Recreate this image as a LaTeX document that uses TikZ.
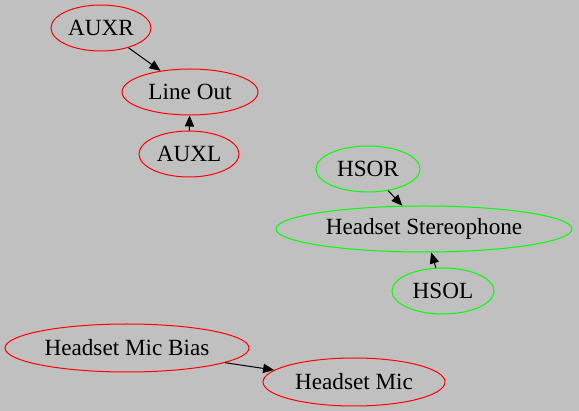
\documentclass[tikz,border=0pt]{standalone}
\usepackage{fontspec}
\setmainfont{Liberation Serif}
\usepackage{tikz}
\usetikzlibrary{shapes.geometric, arrows.meta}
\definecolor{bggray}{RGB}{192,192,192}
\definecolor{dapmred}{RGB}{255,0,0}
\definecolor{dapmgreen}{RGB}{0,255,0}

\begin{document}
\begin{tikzpicture}[
  x=0.5pt, y=-0.5pt,
  widget/.style={
    ellipse, draw, line width=0.5pt, inner sep=0pt,
    minimum height=23pt,
    font=\fontsize{11.6}{14}\selectfont
  },
  redw/.style={widget, draw=dapmred},
  greenw/.style={widget, draw=dapmgreen},
  route/.style={-{Triangle[length=5.5pt, width=4.6pt]}, line width=0.5pt, black},
]

% canvas
\fill[bggray] (0,0) rectangle (579,411);

% line out
\node[redw, minimum width=50pt]  (auxr)    at (101,28)  {AUXR};
\node[redw, minimum width=68pt]  (lineout) at (190,92)  {Line Out};
\node[redw, minimum width=50pt]  (auxl)    at (189,154) {AUXL};

% headset stereophone
\node[greenw, minimum width=52pt]  (hsor)   at (368,169) {HSOR};
\node[greenw, minimum width=148pt] (hsstereo) at (424,229) {Headset Stereophone};
\node[greenw, minimum width=51pt]  (hsol)   at (443,291) {HSOL};

% headset mic
\node[redw, minimum width=122pt, minimum height=24pt] (micbias) at (127,348) {Headset Mic Bias};
\node[redw, minimum width=91pt, minimum height=24pt]  (hsmic)   at (354,382) {Headset Mic};

\draw[route] (auxr)    -- (lineout);
\draw[route] (auxl)    -- (lineout);
\draw[route] (hsor)    -- (hsstereo);
\draw[route] (hsol)    -- (hsstereo);
\draw[route] (micbias) -- (hsmic);

\end{tikzpicture}
\end{document}
